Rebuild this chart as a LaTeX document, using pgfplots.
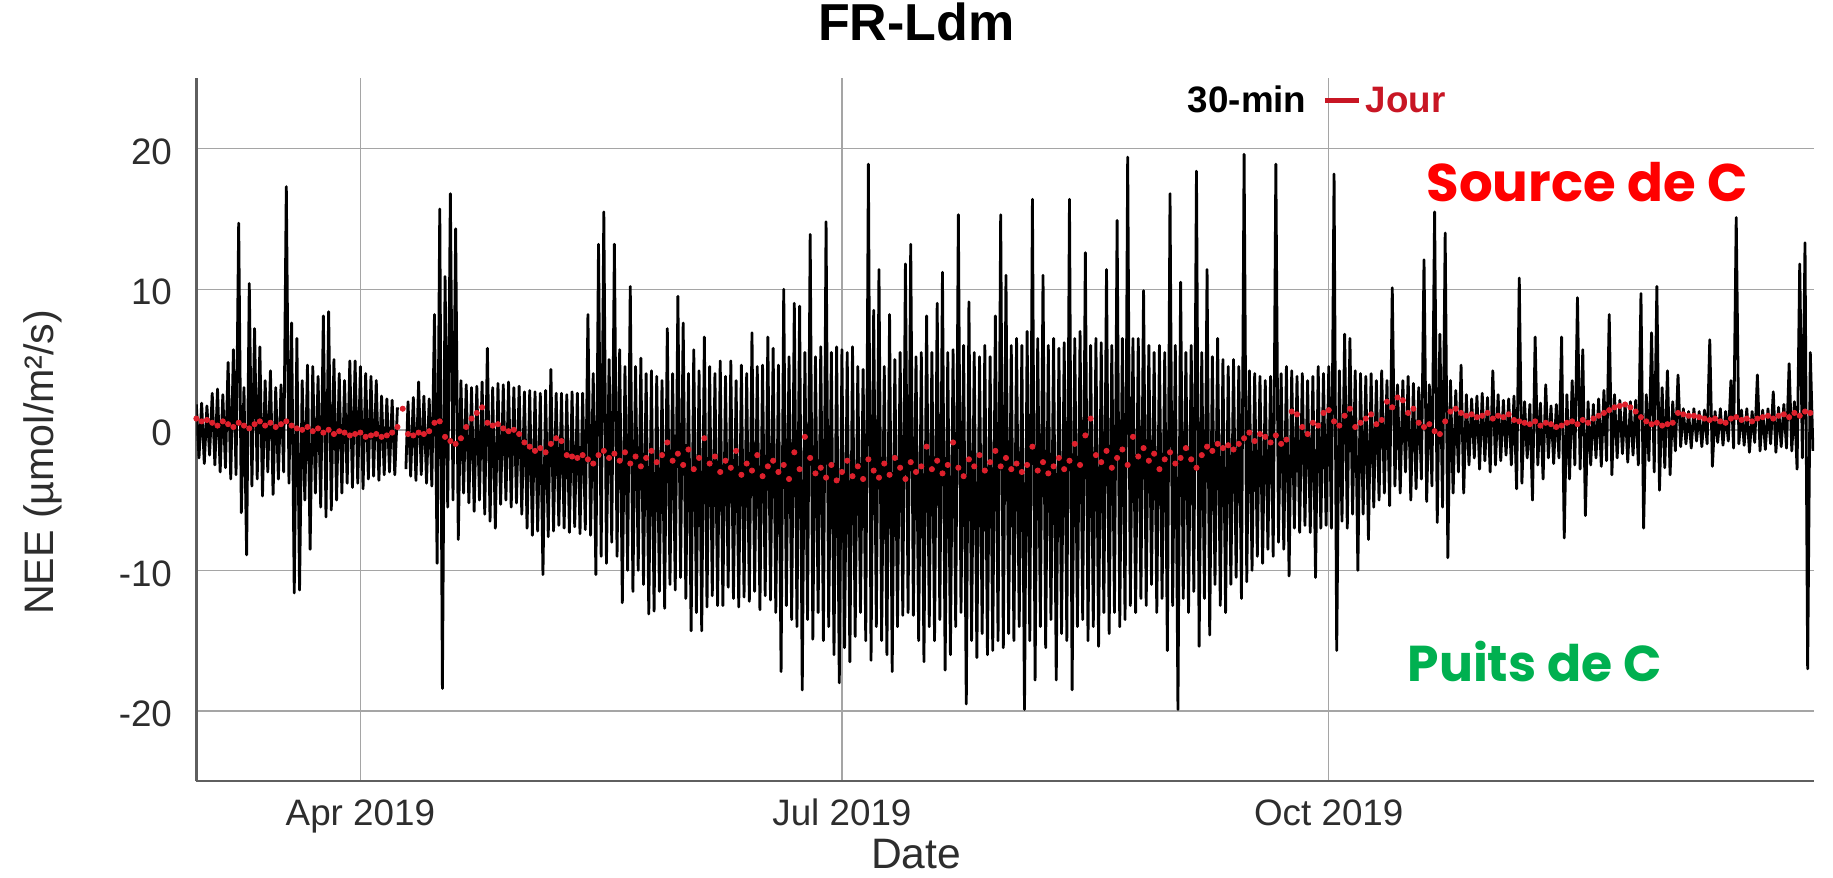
\documentclass[border=0pt]{standalone}
\usepackage{pgfplots}
\pgfplotsset{compat=1.18}
\usepackage{fontspec}
\setmainfont{Liberation Sans}
\newfontfamily\gothic{Poppins}
\definecolor{jourred}{RGB}{200,22,36}
\definecolor{dotred}{RGB}{222,32,44}
\definecolor{srcred}{RGB}{255,0,0}
\definecolor{puitsgreen}{RGB}{0,176,80}
\definecolor{gridgray}{RGB}{165,165,165}
\definecolor{axisgray}{RGB}{95,95,95}
\definecolor{labgray}{RGB}{45,45,45}
\begin{document}
\begin{tikzpicture}
\useasboundingbox (-98.2pt,-48pt) rectangle (818.5pt,390.7pt);
\begin{axis}[
  scale only axis, width=809pt, height=351.5pt,
  xmin=0, xmax=305.7, ymin=-25, ymax=25,
  axis lines*=left,
  axis line style={draw=axisgray, line width=1.2pt},
  xtick={31,122,214}, xticklabels={Apr 2019, Jul 2019, Oct 2019},
  ytick={-20,-10,0,10,20},
  grid=major, major grid style={draw=gridgray, line width=0.7pt},
  major tick length=0pt,
  /pgf/number format/assume math mode=true,
  tick label style={font=\fontsize{18.4}{20}\selectfont, text=labgray},
  xticklabel style={anchor=base, inner sep=0pt, yshift=-22pt},
  yticklabel style={anchor=east, inner sep=0pt, xshift=-12pt, yshift=-1.5pt},
  title={FR-Ldm},
  title style={at={(axis description cs:0.445,1.0367)}, anchor=base, font=\bfseries\fontsize{26}{30}\selectfont},
  xlabel={Date},
  xlabel style={at={(axis description cs:0.445,-0.124)}, anchor=base, font=\fontsize{21.3}{24}\selectfont, text=labgray},
  ylabel={NEE (µmol/m²/s)},
  ylabel style={at={(axis description cs:-0.0947,0.4538)}, anchor=center, font=\fontsize{20.6}{24}\selectfont, text=labgray},
  unbounded coords=jump,
  legend style={at={(axis cs:211.7,23.4)}, anchor=center, draw=none, fill=none,
    font=\bfseries\fontsize{18.4}{20}\selectfont, legend columns=2,
    /tikz/every even column/.append style={column sep=6pt}},
]
\addplot[black, line width=1.4pt, line join=round, forget plot] coordinates {
(0,1.8)(0.5,-2)(1,1.9)(1.5,-2.4)(2,1.7)(2.5,-1.8)(3,2.6)(3.5,-2.5)(4,2.9)(4.5,-3)
(5,2.5)(5.5,-2.7)(6,4.8)(6.5,-3.5)(7,5.7)(7.5,-3.2)(8,14.7)(8.5,-5.9)(9,3)(9.5,-8.9)
(10,10.4)(10.5,-4)(11,7.2)(11.5,-3.5)(12,5.9)(12.5,-4.7)(13,3.5)(13.5,-3)(14,4.2)(14.5,-4.6)
(15,3)(15.5,-3.5)(16,3.2)(16.5,-3)(17,17.3)(17.5,-3.8)(18,7.6)(18.5,-11.6)(19,6.5)(19.5,-11.4)
(20,3.5)(20.5,-5)(21,4.6)(21.5,-8.5)(22,4.5)(22.5,-4.5)(23,3.8)(23.5,-5.5)(24,8.1)(24.5,-6.2)
(25,8.4)(25.5,-5.7)(26,5)(26.5,-5)(27,4)(27.5,-4.5)(28,3.5)(28.5,-3.8)(29,4.9)(29.5,-4.1)
(30,4.9)(30.5,-3.8)(31,4.5)(31.5,-4.2)(32,4)(32.5,-3.5)(33,3.8)(33.5,-3.3)(34,3.5)(34.5,-3.6)
(35,2.4)(35.5,-3.2)(36,2.2)(36.5,-3)(37,2.1)(37.5,-3.2)(38,1.6)(38.1,nan)(39.6,-2.8)
(40,2)(40.5,-3.3)(41,2.3)(41.5,-3.6)(42,3.4)(42.5,-3.2)(43,2.4)(43.5,-3.8)(44,2.2)(44.5,-4)
(45,8.2)(45.5,-9.5)(46,15.7)(46.5,-18.4)(47,10.9)(47.5,-5.5)(48,16.8)(48.5,-5)(49,14.3)(49.5,-7.8)
(50,3.5)(50.5,-4.5)(51,3.2)(51.5,-5.2)(52,3)(52.5,-5.8)(53,3.1)(53.5,-5)(54,3.4)(54.5,-6)
(55,5.8)(55.5,-6.5)(56,3)(56.5,-7)(57,3.3)(57.5,-5.3)(58,3.2)(58.5,-5)(59,3.4)(59.5,-5.5)
(60,3)(60.5,-5.2)(61,3.1)(61.5,-6)(62,2.7)(62.5,-7)(63,2.8)(63.5,-7.5)(64,2.7)(64.5,-7.2)
(65,2.6)(65.5,-10.3)(66,2.8)(66.5,-7.6)(67,4.3)(67.5,-7.2)(68,2.6)(68.5,-6.8)(69,2.6)(69.5,-7)
(70,2.5)(70.5,-7.3)(71,2.7)(71.5,-6.9)(72,2.6)(72.5,-7.4)(73,2.6)(73.5,-7.1)(74,8.2)(74.5,-7.5)
(75,4)(75.5,-10.3)(76,13.2)(76.5,-9)(77,15.5)(77.5,-9.5)(78,5)(78.5,-8)(79,13.2)(79.5,-9)
(80,5.7)(80.5,-12.3)(81,4.5)(81.5,-10)(82,10.2)(82.5,-11.5)(83,4.5)(83.5,-10)(84,5.1)(84.5,-11)
(85,4)(85.5,-13.1)(86,4.2)(86.5,-12.9)(87,3.8)(87.5,-11.5)(88,3.5)(88.5,-12.7)(89,7.2)(89.5,-11)
(90,4)(90.5,-11.4)(91,9.5)(91.5,-10.5)(92,7.6)(92.5,-12)(93,4)(93.5,-14.3)(94,5.7)(94.5,-13)
(95,4.2)(95.5,-14.3)(96,6.6)(96.5,-12.6)(97,4.5)(97.5,-11.8)(98,4)(98.5,-12.5)(99,4.9)(99.5,-12.5)
(100,3.8)(100.5,-11.2)(101,4.9)(101.5,-12)(102,3.5)(102.5,-12.6)(103,4.6)(103.5,-11.9)(104,4)(104.5,-12.2)
(105,6.9)(105.5,-11.5)(106,4.5)(106.5,-12.8)(107,4.6)(107.5,-11.8)(108,6.6)(108.5,-12.1)(109,5.8)(109.5,-13)
(110,4.6)(110.5,-17.2)(111,10)(111.5,-12.5)(112,5.2)(112.5,-13.5)(113,9)(113.5,-14)(114,8.8)(114.5,-18.5)
(115,5.5)(115.5,-13.5)(116,13.9)(116.5,-14.9)(117,5.2)(117.5,-13)(118,5.9)(118.5,-15)(119,14.8)(119.5,-14)
(120,5.5)(120.5,-16)(121,5.9)(121.5,-18)(122,5.7)(122.5,-15.5)(123,5.5)(123.5,-16.5)(124,5.9)(124.5,-14.7)
(125,4.5)(125.5,-13)(126,4.3)(126.5,-15)(127,18.9)(127.5,-16.4)(128,8.5)(128.5,-14)(129,11.4)(129.5,-15)
(130,4.5)(130.5,-16)(131,8.2)(131.5,-17.2)(132,5)(132.5,-14)(133,5.5)(133.5,-13.2)(134,11.8)(134.5,-13)
(135,13.2)(135.5,-13.2)(136,5.2)(136.5,-15)(137,5.5)(137.5,-16.5)(138,8.1)(138.5,-14)(139,5.5)(139.5,-15)
(140,9)(140.5,-13.5)(141,11.2)(141.5,-17.1)(142,5.5)(142.5,-16)(143,5.7)(143.5,-14)(144,15.3)(144.5,-13)
(145,6)(145.5,-19.5)(146,9.1)(146.5,-15)(147,5.5)(147.5,-16.2)(148,5.2)(148.5,-14.5)(149,6)(149.5,-16)
(150,5.2)(150.5,-15.7)(151,8.1)(151.5,-15)(152,15.3)(152.5,-15.5)(153,11)(153.5,-14.5)(154,6)(154.5,-15)
(155,6.5)(155.5,-14)(156,6)(156.5,-19.9)(157,7)(157.5,-15)(158,16.4)(158.5,-17.8)(159,6.5)(159.5,-14)
(160,11)(160.5,-15.5)(161,6)(161.5,-13.5)(162,6.5)(162.5,-17.8)(163,5.8)(163.5,-14.5)(164,6.2)(164.5,-15)
(165,16.4)(165.5,-18.5)(166,6.5)(166.5,-14)(167,7)(167.5,-13.5)(168,12.6)(168.5,-15)(169,6)(169.5,-14)
(170,6.5)(170.5,-15.4)(171,6.2)(171.5,-13)(172,11.4)(172.5,-14.5)(173,6)(173.5,-13)(174,14.9)(174.5,-14)
(175,6.5)(175.5,-13.5)(176,19.4)(176.5,-12.5)(177,6.5)(177.5,-13)(178,6.5)(178.5,-12)(179,9.9)(179.5,-12.5)
(180,6)(180.5,-11)(181,5.5)(181.5,-13)(182,6)(182.5,-12)(183,5.5)(183.5,-15.7)(184,16.8)(184.5,-12.5)
(185,6)(185.5,-19.9)(186,10.5)(186.5,-12)(187,5.5)(187.5,-13)(188,6)(188.5,-11.5)(189,18.4)(189.5,-15.4)
(190,5.5)(190.5,-12)(191,11.4)(191.5,-14.6)(192,5.2)(192.5,-11)(193,6.5)(193.5,-12.5)(194,5)(194.5,-13)
(195,4.5)(195.5,-11)(196,5)(196.5,-10.5)(197,4.5)(197.5,-12)(198,19.6)(198.5,-10.8)(199,4.2)(199.5,-10)
(200,4)(200.5,-9)(201,3.8)(201.5,-9.5)(202,3.5)(202.5,-8.5)(203,3.8)(203.5,-9)(204,18.9)(204.5,-8)
(205,4)(205.5,-8.5)(206,4.5)(206.5,-10.4)(207,4.2)(207.5,-7)(208,3.8)(208.5,-7.3)(209,4)(209.5,-6.8)
(210,3.5)(210.5,-7.3)(211,3.8)(211.5,-10.5)(212,4.5)(212.5,-7)(213,4)(213.5,-6.8)(214,4.5)(214.5,-7)
(215,18.2)(215.5,-15.7)(216,4.2)(216.5,-6.5)(217,6.8)(217.5,-7)(218,6.5)(218.5,-6)(219,4.2)(219.5,-10)
(220,4)(220.5,-6)(221,3.8)(221.5,-7.8)(222,4)(222.5,-5.5)(223,3.5)(223.5,-5)(224,4.2)(224.5,-4.5)
(225,3.5)(225.5,-5.4)(226,10.1)(226.5,-4)(227,3.2)(227.5,-4.5)(228,3.5)(228.5,-3)(229,3.8)(229.5,-5)
(230,3.3)(230.5,-4.2)(231,3)(231.5,-3.5)(232,12.1)(232.5,-5.1)(233,3.2)(233.5,-4)(234,15.5)(234.5,-6.6)
(235,6.8)(235.5,-5.5)(236,14)(236.5,-9.1)(237,3.5)(237.5,-4.5)(238,2.8)(238.5,-3)(239,4.6)(239.5,-4.5)
(240,2.5)(240.5,-2.5)(241,2.2)(241.5,-2)(242,2.4)(242.5,-2.8)(243,2.6)(243.5,-2.2)(244,2.3)(244.5,-3)
(245,4.2)(245.5,-2.5)(246,2.5)(246.5,-2.2)(247,2.1)(247.5,-1.8)(248,2.2)(248.5,-2.5)(249,2.4)(249.5,-4.2)
(250,10.8)(250.5,-3.8)(251,2)(251.5,-2)(252,1.8)(252.5,-5)(253,6.6)(253.5,-2.5)(254,1.9)(254.5,-3.5)
(255,3.2)(255.5,-2)(256,1.7)(256.5,-2.4)(257,1.8)(257.5,-2)(258,6.6)(258.5,-7.7)(259,2.5)(259.5,-3.5)
(260,3.5)(260.5,-2.5)(261,9.4)(261.5,-2.8)(262,5.7)(262.5,-6.1)(263,2)(263.5,-2.5)(264,1.8)(264.5,-2)
(265,2.2)(265.5,-2.6)(266,2.8)(266.5,-2.2)(267,8.2)(267.5,-3.2)(268,2.5)(268.5,-2)(269,2.1)(269.5,-1.7)
(270,1.9)(270.5,-2.3)(271,2)(271.5,-1.8)(272,2.1)(272.5,-2.5)(273,9.7)(273.5,-7)(274,2.5)(274.5,-2.2)
(275,6.9)(275.5,-3)(276,10.2)(276.5,-4.3)(277,3)(277.5,-2.7)(278,4.2)(278.5,-3.2)(279,2)(279.5,-1.5)
(280,3.9)(280.5,-1.2)(281,1.5)(281.5,-1)(282,1.3)(282.5,-1.3)(283,1.5)(283.5,-0.8)(284,1.3)(284.5,-1.2)
(285,1.4)(285.5,-1)(286,6.4)(286.5,-2.6)(287,1.3)(287.5,-0.9)(288,1.5)(288.5,-1.1)(289,1.3)(289.5,-0.8)
(290,3.5)(290.5,-1.3)(291,15.1)(291.5,-1)(292,1.4)(292.5,-1.1)(293,1.5)(293.5,-1.6)(294,1.3)(294.5,-0.9)
(295,3.9)(295.5,-1.5)(296,1.4)(296.5,-1.4)(297,1.5)(297.5,-1)(298,2.7)(298.5,-1.6)(299,1.6)(299.5,-1.2)
(300,1.8)(300.5,-1.3)(301,4.7)(301.5,-1.5)(302,2)(302.5,-2.8)(303,11.8)(303.5,-2)(304,13.3)(304.5,-17)(305,5.5)(305.5,-1.5)
};
\addplot[only marks, mark=*, mark size=1.3pt, color=dotred, forget plot] coordinates {
(0,0.8)(1,0.6)(2,0.7)(3,0.5)(4,0.3)(5,0.6)(6,0.4)(7,0.2)(8,0.5)(9,0.3)
(10,0.1)(11,0.4)(12,0.6)(13,0.3)(14,0.5)(15,0.2)(16,0.4)(17,0.6)(18,0.3)(19,0.1)
(20,0)(21,0.2)(22,-0.1)(23,0.1)(24,-0.2)(25,0)(26,-0.3)(27,-0.1)(28,-0.2)(29,-0.4)
(30,-0.3)(31,-0.2)(32,-0.5)(33,-0.4)(34,-0.3)(35,-0.5)(36,-0.4)(37,-0.2)(38,0.2)(39,1.5)
(40,-0.3)(41,-0.4)(42,-0.2)(43,-0.3)(44,-0.1)(45,0.5)(46,0.6)(47,-0.5)(48,-0.8)(49,-1)
(50,-0.6)(51,0.2)(52,0.8)(53,1.2)(54,1.6)(55,0.5)(56,0.3)(57,0.4)(58,0.1)(59,-0.1)
(60,0)(61,-0.3)(62,-0.9)(63,-1.2)(64,-1.5)(65,-1.3)(66,-1.6)(67,-1)(68,-0.6)(69,-0.8)
(70,-1.8)(71,-1.9)(72,-2)(73,-1.8)(74,-2.1)(75,-2.4)(76,-1.8)(77,-1.5)(78,-2)(79,-1.7)
(80,-2.2)(81,-1.6)(82,-2.4)(83,-1.9)(84,-2.6)(85,-2)(86,-1.5)(87,-2.3)(88,-1.8)(89,-0.9)
(90,-2.2)(91,-1.7)(92,-2.5)(93,-1.4)(94,-2.8)(95,-2)(96,-0.6)(97,-2.4)(98,-1.9)(99,-3)
(100,-2.2)(101,-2.7)(102,-1.5)(103,-3.2)(104,-2.4)(105,-2.9)(106,-1.8)(107,-3.3)(108,-2.6)(109,-2.2)
(110,-3)(111,-2.5)(112,-3.5)(113,-1.6)(114,-2.8)(115,-0.5)(116,-2)(117,-3.1)(118,-2.7)(119,-3.4)
(120,-2.5)(121,-3.6)(122,-3)(123,-2.2)(124,-3.3)(125,-2.6)(126,-3.5)(127,-2.1)(128,-2.9)(129,-3.4)
(130,-2.4)(131,-3.2)(132,-2)(133,-2.7)(134,-3.5)(135,-2.3)(136,-3)(137,-2.6)(138,-1.2)(139,-2.8)
(140,-2.2)(141,-3.1)(142,-2.5)(143,-0.9)(144,-2.7)(145,-3.3)(146,-2.1)(147,-2.6)(148,-1.8)(149,-2.9)
(150,-2.3)(151,-1.5)(152,-2.6)(153,-2)(154,-2.8)(155,-2.4)(156,-3)(157,-2.5)(158,-1.2)(159,-2.9)
(160,-2.3)(161,-3.1)(162,-2.6)(163,-2)(164,-2.8)(165,-2.2)(166,-1)(167,-2.5)(168,-0.4)(169,0.8)
(170,-1.8)(171,-2.3)(172,-1.5)(173,-2.7)(174,-2)(175,-1.4)(176,-2.5)(177,-0.5)(178,-1.9)(179,-1.3)
(180,-2.2)(181,-1.7)(182,-2.8)(183,-2.1)(184,-1.6)(185,-2.4)(186,-2)(187,-1.3)(188,-2.1)(189,-2.7)
(190,-1.8)(191,-1.2)(192,-1.5)(193,-1)(194,-1.3)(195,-1.1)(196,-1.4)(197,-1)(198,-0.6)(199,-0.2)
(200,-0.8)(201,-0.3)(202,-0.5)(203,-0.9)(204,-0.4)(205,-1)(206,-0.7)(207,1.3)(208,1.1)(209,0.2)
(210,-0.3)(211,0.5)(212,0.3)(213,1.2)(214,1.4)(215,0.6)(216,0.3)(217,1)(218,1.5)(219,0.2)
(220,0.5)(221,0.8)(222,1.1)(223,0.4)(224,0.7)(225,2)(226,1.6)(227,2.3)(228,2.1)(229,1.2)
(230,1.5)(231,0.5)(232,0.2)(233,0.4)(234,-0.1)(235,-0.3)(236,0.6)(237,1.3)(238,1.5)(239,1.2)
(240,1)(241,1.1)(242,0.9)(243,1)(244,1.2)(245,0.8)(246,1)(247,0.9)(248,1.1)(249,0.7)
(250,0.6)(251,0.5)(252,0.4)(253,0.6)(254,0.3)(255,0.5)(256,0.4)(257,0.2)(258,0.3)(259,0.5)
(260,0.6)(261,0.4)(262,0.7)(263,0.5)(264,0.8)(265,1)(266,1.2)(267,1.4)(268,1.6)(269,1.7)
(270,1.8)(271,1.6)(272,1.3)(273,0.9)(274,0.6)(275,0.4)(276,0.5)(277,0.3)(278,0.4)(279,0.5)
(280,1.2)(281,1.1)(282,1)(283,1)(284,0.9)(285,0.8)(286,0.7)(287,0.8)(288,0.6)(289,0.5)
(290,0.8)(291,0.9)(292,0.7)(293,0.8)(294,0.6)(295,0.8)(296,0.9)(297,1)(298,0.8)(299,1)
(300,1.1)(301,0.9)(302,1.2)(303,1)(304,1.3)(305,1.2)
};
\addlegendimage{empty legend}
\addlegendentry{30-min}
\addlegendimage{line legend, jourred, line width=2.5pt}
\addlegendentry{\textcolor{jourred}{Jour}}
\node[text=srcred, font=\gothic\bfseries\fontsize{26.5}{30}\selectfont, anchor=center] at (axis cs:262.8,17.6) {Source de C};
\node[text=puitsgreen, font=\gothic\bfseries\fontsize{25.2}{29}\selectfont, anchor=center] at (axis cs:252.9,-16.5) {Puits de C};
\end{axis}
\end{tikzpicture}
\end{document}
